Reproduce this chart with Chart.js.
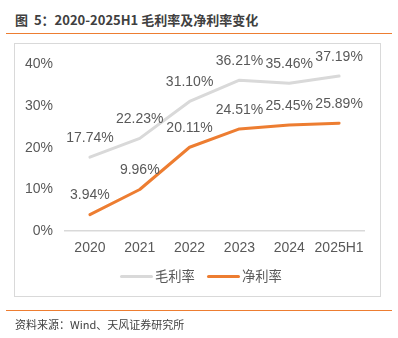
<!DOCTYPE html>
<html><head><meta charset="utf-8">
<script src="https://cdn.jsdelivr.net/npm/chart.js@4"></script>
<style>
html,body{margin:0;padding:0;background:#fff;width:398px;height:338px;overflow:hidden;position:relative;font-family:"Noto Sans CJK SC","Liberation Sans",sans-serif;}
#title{position:absolute;left:15px;top:11px;font-size:13px;font-weight:bold;color:#404040;white-space:nowrap;line-height:18px;}
.rule{position:absolute;left:6px;width:386px;height:1.5px;background:#ed7d31;}
#box{position:absolute;left:14px;top:43px;width:367px;height:254px;border:1px solid #d9d9d9;box-sizing:border-box;}
#wrap{position:absolute;left:15px;top:44px;width:366px;height:253px;}
#src{position:absolute;left:15px;top:316px;font-size:11px;color:#404040;white-space:nowrap;line-height:16px;}
#legend{position:absolute;top:268px;left:0;width:398px;height:16px;}
.li{position:absolute;top:0;height:16px;font-size:13.3px;color:#595959;line-height:16px;}
.sw{position:absolute;top:6.5px;height:3px;border-radius:2px;width:33px;}
</style></head>
<body>
<div id="title">图&nbsp;&nbsp;5：2020-2025H1 毛利率及净利率变化</div>
<div class="rule" style="top:32.5px"></div>
<div id="box"></div>
<div id="wrap"><canvas id="c" width="366" height="253"></canvas></div>
<div id="legend"></div>
<div class="rule" style="top:309.5px"></div>
<div id="src">资料来源：Wind、天风证券研究所</div>
<script>
const categories = ["2020","2021","2022","2023","2024","2025H1"];
const grossMargin = [17.74, 22.23, 31.10, 36.21, 35.46, 37.19];
const netMargin = [3.94, 9.96, 20.11, 24.51, 25.45, 25.89];
const seriesNames = ["毛利率","净利率"];
const seriesColors = ["#d9d9d9","#ed7d31"];
const yTicks = [0,10,20,30,40];

const labelPlugin = {
  id:'vlabels',
  afterDatasetsDraw(chart){
    const ctx = chart.ctx;
    ctx.save();
    ctx.font = '14px "Liberation Sans", Arial, sans-serif';
    ctx.fillStyle = '#595959';
    ctx.textAlign = 'center';
    ctx.textBaseline = 'middle';
    chart.data.datasets.forEach((ds,i)=>{
      const meta = chart.getDatasetMeta(i);
      meta.data.forEach((pt,j)=>{
        ctx.fillText(ds.data[j].toFixed(2)+'%', pt.x, pt.y-19);
      });
    });
    ctx.restore();
  }
};

const chart = new Chart(document.getElementById('c'), {
  type:'line',
  data:{
    labels:categories,
    datasets:[
      {label:seriesNames[0], data:grossMargin, borderColor:seriesColors[0], backgroundColor:seriesColors[0], borderWidth:3, pointRadius:0, tension:0, borderCapStyle:'round', borderJoinStyle:'round'},
      {label:seriesNames[1], data:netMargin, borderColor:seriesColors[1], backgroundColor:seriesColors[1], borderWidth:3, pointRadius:0, tension:0, borderCapStyle:'round', borderJoinStyle:'round'}
    ]
  },
  options:{
    responsive:false,
    animation:false,
    devicePixelRatio:1,
    layout:{padding:{top:18.7, right:17, left:0, bottom:0}},
    plugins:{legend:{display:false}, tooltip:{enabled:false}},
    scales:{
      x:{
        offset:true,
        grid:{display:false, drawTicks:false},
        border:{display:true, color:'#d9d9d9', width:1.5},
        ticks:{color:'#595959', font:{family:'"Liberation Sans", Arial, sans-serif', size:14}, padding:9, maxRotation:0, autoSkip:false},
        afterFit(s){ s.height = 66; }
      },
      y:{
        min:0, max:40,
        afterBuildTicks(s){ s.ticks = yTicks.map(v=>({value:v})); },
        grid:{display:false, drawTicks:false},
        border:{display:false},
        ticks:{color:'#595959', font:{family:'"Liberation Sans", Arial, sans-serif', size:14}, padding:12, callback:v=>v+'%'},
        afterFit(s){ s.width = 50; }
      }
    }
  },
  plugins:[labelPlugin]
});

// legend built from dataset names/colours
const lg = document.getElementById('legend');
const pos = [120, 207];
seriesNames.forEach((n,i)=>{
  const sw = document.createElement('div');
  sw.className='sw'; sw.style.left=pos[i]+'px'; sw.style.background=seriesColors[i];
  lg.appendChild(sw);
  const t = document.createElement('div');
  t.className='li'; t.style.left=(pos[i]+35)+'px'; t.textContent=n;
  lg.appendChild(t);
});
</script>
</body></html>
